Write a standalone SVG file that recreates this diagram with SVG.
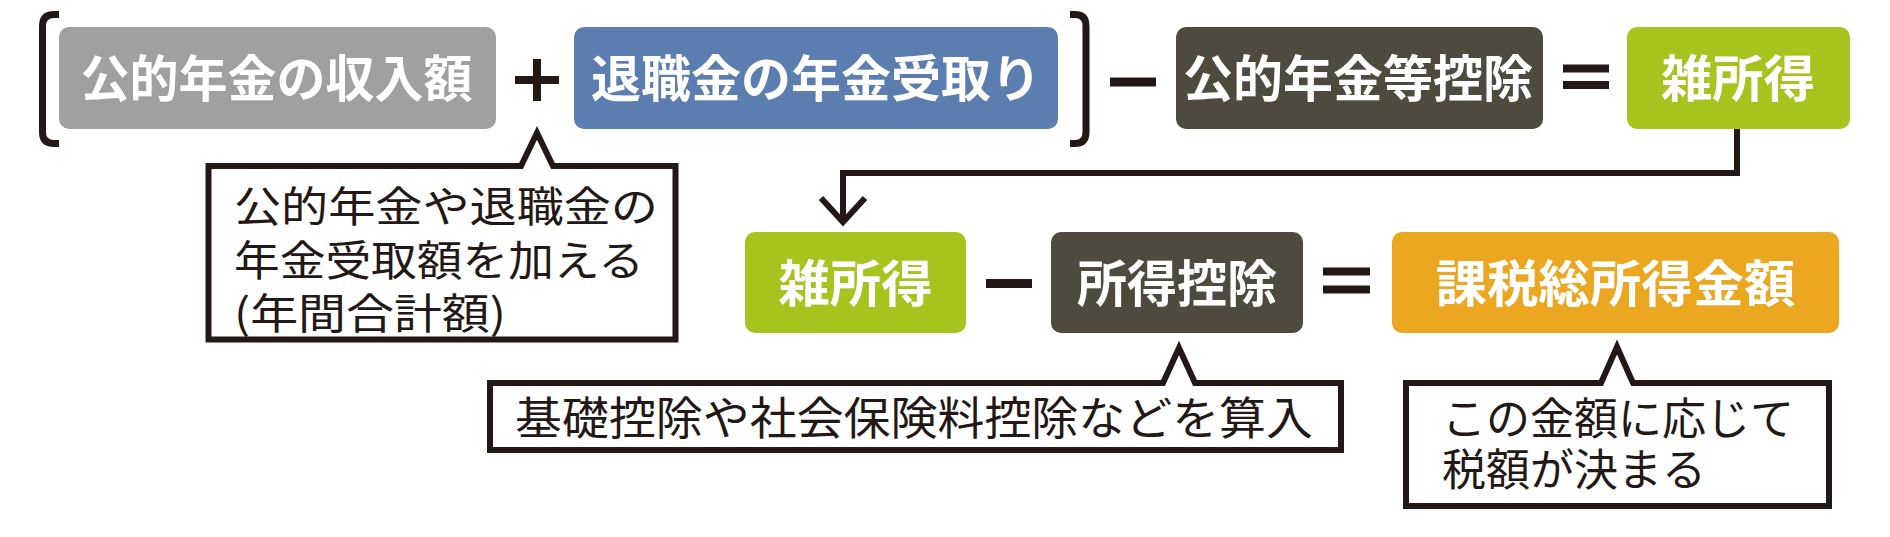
<svg xmlns="http://www.w3.org/2000/svg" width="1890" height="537" viewBox="0 0 1890 537">
  <style>
    .box-label { font-family: "Noto Sans CJK JP", "Noto Sans", sans-serif; font-weight: 700; font-size: 50px; fill: #ffffff; text-anchor: middle; }
    .note { font-family: "Noto Sans CJK JP", "Noto Sans", sans-serif; font-weight: 400; fill: #231815; }
    .ink { stroke: #231815; fill: none; }
    .op { fill: #231815; }
    .callout { fill: #ffffff; stroke: #231815; stroke-width: 6; stroke-linejoin: miter; }
  </style>
  <defs>
    <marker id="openArrow" markerUnits="userSpaceOnUse" markerWidth="60" markerHeight="60" refX="0" refY="0" orient="auto" overflow="visible" viewBox="-30 -30 60 60">
      <path d="M -24 -22 L 0 0 L -24 22" fill="none" stroke="#231815" stroke-width="6"/>
    </marker>
  </defs>
  <rect width="1890" height="537" fill="#ffffff"/>

  <!-- brackets and operators -->
  <g id="operators">
    <path class="ink" stroke-width="7" d="M 59 14.5 H 54 Q 42.5 14.5 42.5 26 V 132 Q 42.5 143.5 54 143.5 H 59"/>
    <path class="ink" stroke-width="7" d="M 1070 14.5 H 1075 Q 1086 14.5 1086 26 V 132 Q 1086 143.5 1075 143.5 H 1070"/>
    <rect class="op" x="515" y="76" width="44" height="8"/>
    <rect class="op" x="533" y="59" width="8" height="42"/>
    <rect class="op" x="1110" y="77.5" width="46" height="9"/>
    <rect class="op" x="1563" y="64.5" width="46" height="8"/>
    <rect class="op" x="1563" y="81" width="46" height="8"/>
    <rect class="op" x="986" y="279" width="46" height="9"/>
    <rect class="op" x="1323" y="267.5" width="47" height="8"/>
    <rect class="op" x="1323" y="285.5" width="47" height="8"/>
  </g>

  <!-- connectors -->
  <g id="connectors">
    <path class="ink" stroke-width="6" d="M 1737 129 V 173 H 843 V 222" marker-end="url(#openArrow)"/>
  </g>

  <g id="node-public-pension">
    <rect x="59" y="27" width="437" height="102" rx="10" fill="#9fa0a0"/>
    <text class="box-label" x="276.5" y="97" textLength="392" lengthAdjust="spacingAndGlyphs">公的年金の収入額</text>
  </g>
  <g id="node-retirement-pension">
    <rect x="574" y="27" width="484" height="102" rx="10" fill="#5b7db0"/>
    <text class="box-label" x="816" y="97">退職金の年金受取り</text>
  </g>
  <g id="node-pension-deduction">
    <rect x="1176" y="27" width="367" height="102" rx="10" fill="#4e4a3e"/>
    <text class="box-label" x="1358" y="97">公的年金等控除</text>
  </g>
  <g id="node-misc-income">
    <rect x="1627" y="27" width="223" height="102" rx="10" fill="#a6c31e"/>
    <text class="box-label" x="1738" y="97" textLength="154" lengthAdjust="spacingAndGlyphs">雑所得</text>
  </g>

  <g id="node-misc-income-2">
    <rect x="745" y="232" width="221" height="101" rx="10" fill="#a6c31e"/>
    <text class="box-label" x="855.5" y="302" textLength="154" lengthAdjust="spacingAndGlyphs">雑所得</text>
  </g>
  <g id="node-income-deduction">
    <rect x="1051" y="232" width="252" height="101" rx="10" fill="#4e4a3e"/>
    <text class="box-label" x="1177" y="302">所得控除</text>
  </g>
  <g id="node-taxable-income">
    <rect x="1392" y="232" width="447" height="101" rx="10" fill="#eaa71f"/>
    <text class="box-label" x="1615.5" y="302" textLength="360" lengthAdjust="spacingAndGlyphs">課税総所得金額</text>
  </g>

  <g id="note-annual-total">
    <path class="callout" d="M 208.5 166 H 521 L 537 133 L 553 166 H 675.5 V 339.5 H 208.5 Z"/>
    <text class="note" font-size="42" x="234" y="222" textLength="424" lengthAdjust="spacingAndGlyphs">公的年金や退職金の</text>
    <text class="note" font-size="42" x="234" y="275.5" textLength="410" lengthAdjust="spacingAndGlyphs">年金受取額を加える</text>
    <text class="note" font-size="42" x="234" y="329" textLength="272" lengthAdjust="spacingAndGlyphs">(年間合計額)</text>
  </g>
  <g id="note-deductions">
    <path class="callout" d="M 490 383 H 1163 L 1179 348 L 1195 383 H 1341 V 450 H 490 Z"/>
    <text class="note" font-size="45" x="515" y="435" textLength="798" lengthAdjust="spacingAndGlyphs">基礎控除や社会保険料控除などを算入</text>
  </g>
  <g id="note-tax-amount">
    <path class="callout" d="M 1406 383 H 1601 L 1617 347 L 1633 383 H 1829 V 506 H 1406 Z"/>
    <text class="note" font-size="44" x="1442" y="435">この金額に応じて</text>
    <text class="note" font-size="44" x="1442" y="486">税額が決まる</text>
  </g>
</svg>
